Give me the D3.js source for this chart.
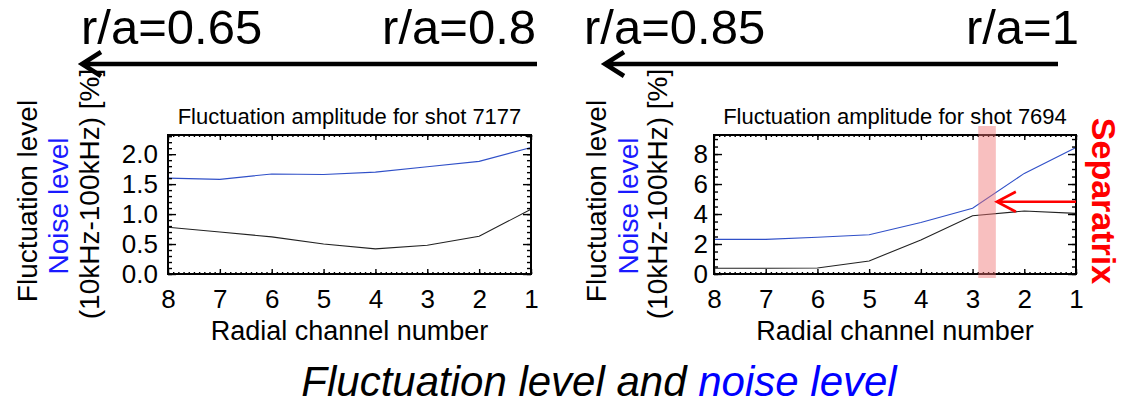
<!DOCTYPE html>
<html>
<head>
<meta charset="utf-8">
<script src="https://cdn.jsdelivr.net/npm/d3@7"></script>
<style>
  body { margin: 0; background: #fff; }
  svg { display: block; font-family: "Liberation Sans", Arial, sans-serif; }
</style>
</head>
<body>
<svg id="chart" width="1126" height="405"></svg>
<script>
// channel numbers, plotted from 8 (inner) to 1 (edge)
const channels = [8, 7, 6, 5, 4, 3, 2, 1];

// shot 7177
const fluct7177 = [0.78, 0.70, 0.62, 0.50, 0.42, 0.48, 0.63, 1.08];
const noise7177 = [1.60, 1.58, 1.67, 1.66, 1.70, 1.79, 1.88, 2.11];
const yTicks7177 = [0, 0.5, 1.0, 1.5, 2.0];

// shot 7694
const fluct7694 = [0.38, 0.38, 0.40, 0.87, 2.27, 3.89, 4.20, 4.04];
const noise7694 = [2.31, 2.31, 2.45, 2.62, 3.44, 4.38, 6.71, 8.44];
const yTicks7694 = [0, 2, 4, 6, 8];

// separatrix band (channel units) and arrow level
const separatrixBand = [2.89, 2.55];
const separatrixLevel = 4.82;

const svg = d3.select("#chart");
svg.append("rect").attr("width", 1126).attr("height", 405).attr("fill", "#fff");

const blueLine = "#3050c8";
const labelBlue = "#1a1aff";

function drawPanel(p) {
    const x = d3.scaleLinear().domain([8, 1]).range([p.left, p.right]);
    const y = d3.scaleLinear().domain([0, p.yMax]).range([p.bottom, p.top]);
    const g = svg.append("g");

    // data lines
    const line = d3.line().x((d, i) => x(channels[i])).y(d => y(d));
    g.append("path").datum(p.noise).attr("d", line)
        .attr("fill", "none").attr("stroke", blueLine).attr("stroke-width", 1.1);
    g.append("path").datum(p.fluct).attr("d", line)
        .attr("fill", "none").attr("stroke", "#222").attr("stroke-width", 1.1);

    // minor ticks all round (inward)
    const minorX = d3.range(1, 8.001, 0.1);
    const minorY = d3.range(0, p.yMax, p.yMinor);
    g.append("g").attr("transform", `translate(0,${p.bottom})`)
        .call(d3.axisBottom(x).tickValues(minorX).tickSize(-2).tickFormat(""));
    g.append("g").attr("transform", `translate(0,${p.top})`)
        .call(d3.axisTop(x).tickValues(minorX).tickSize(-2).tickFormat(""));
    g.append("g").attr("transform", `translate(${p.left},0)`)
        .call(d3.axisLeft(y).tickValues(minorY).tickSize(-4).tickFormat(""));
    g.append("g").attr("transform", `translate(${p.right},0)`)
        .call(d3.axisRight(y).tickValues(minorY).tickSize(-4).tickFormat(""));

    // major ticks with labels
    g.append("g").attr("class", "xa").attr("transform", `translate(0,${p.bottom})`)
        .call(d3.axisBottom(x).tickValues(channels).tickSize(-5).tickPadding(16).tickFormat(d3.format("d")));
    g.append("g").attr("transform", `translate(0,${p.top})`)
        .call(d3.axisTop(x).tickValues(channels).tickSize(-5).tickFormat(""));
    g.append("g").attr("class", "ya").attr("transform", `translate(${p.left},0)`)
        .call(d3.axisLeft(y).tickValues(p.yTicks).tickSize(-8).tickPadding(p.yPad).tickFormat(p.yFmt));
    g.append("g").attr("transform", `translate(${p.right},0)`)
        .call(d3.axisRight(y).tickValues(p.yTicks).tickSize(-8).tickFormat(""));

    g.selectAll(".domain").remove();
    g.selectAll(".tick line").attr("stroke", "#000").attr("stroke-width", 1.4);
    g.selectAll(".xa text, .ya text")
        .attr("font-family", "Liberation Sans, Arial, sans-serif")
        .attr("font-size", 26).attr("fill", "#000");

    // frame
    g.append("rect")
        .attr("x", p.left).attr("y", p.top)
        .attr("width", p.right - p.left).attr("height", p.bottom - p.top)
        .attr("fill", "none").attr("stroke", "#000").attr("stroke-width", 2);

    // title and x label
    const cx = (p.left + p.right) / 2;
    g.append("text").attr("x", cx).attr("y", 124).attr("text-anchor", "middle")
        .attr("font-size", 22).text(p.title);
    g.append("text").attr("x", cx).attr("y", 340).attr("text-anchor", "middle")
        .attr("font-size", 27).text("Radial channel number");

    // y label, three rotated lines
    const yl = [
        { t: "Fluctuation level", c: "#000", bx: p.ylx[0], cy: 201 },
        { t: "Noise level", c: labelBlue, bx: p.ylx[1], cy: 206 },
        { t: "(10kHz-100kHz) [%]", c: "#000", bx: p.ylx[2], cy: 194 }
    ];
    yl.forEach(l => {
        g.append("text")
            .attr("transform", `translate(${l.bx},${l.cy}) rotate(-90)`)
            .attr("text-anchor", "middle").attr("font-size", 28)
            .attr("fill", l.c).text(l.t);
    });

    return { x, y, g };
}

drawPanel({
    left: 168, right: 531, top: 135, bottom: 274,
    yMax: 2.32, yMinor: 0.1, yTicks: yTicks7177, yFmt: d3.format(".1f"), yPad: 10,
    fluct: fluct7177, noise: noise7177,
    title: "Fluctuation amplitude for shot 7177",
    ylx: [37, 68, 99]
});

const right = drawPanel({
    left: 714, right: 1076, top: 135, bottom: 274,
    yMax: 9.27, yMinor: 0.5, yTicks: yTicks7694, yFmt: d3.format("d"), yPad: 6,
    fluct: fluct7694, noise: noise7694,
    title: "Fluctuation amplitude for shot 7694",
    ylx: [606, 638, 667]
});

// separatrix band and arrow
const bx0 = right.x(separatrixBand[0]), bx1 = right.x(separatrixBand[1]);
right.g.append("rect")
    .attr("x", bx0).attr("y", 126)
    .attr("width", bx1 - bx0).attr("height", 152)
    .attr("fill", "#f07070").attr("opacity", 0.45);

const ay = right.y(separatrixLevel);
right.g.append("path")
    .attr("d", `M${right.x(1)},${ay}H${bx1 + 1}M${bx1 + 20},${ay - 10}L${bx1 + 1},${ay}L${bx1 + 20},${ay + 10}`)
    .attr("fill", "none").attr("stroke", "#f00").attr("stroke-width", 2.6);

svg.append("text")
    .attr("transform", "translate(1092,201) rotate(90)")
    .attr("text-anchor", "middle").attr("font-size", 34).attr("font-weight", "bold")
    .attr("fill", "#f00").text("Separatrix");

// top radial position arrows
const arrows = [
    { x0: 537, x1: 80, l: "r/a=0.65", r: "r/a=0.8", lx: 81, rx: 536 },
    { x0: 1058, x1: 603, l: "r/a=0.85", r: "r/a=1", lx: 584, rx: 1079 }
];
arrows.forEach(a => {
    svg.append("path")
        .attr("d", `M${a.x0},64H${a.x1 + 2}M${a.x1 + 21},52L${a.x1 + 2},64L${a.x1 + 21},76`)
        .attr("fill", "none").attr("stroke", "#000").attr("stroke-width", 4.5);
    svg.append("text").attr("x", a.lx).attr("y", 44).attr("font-size", 49).text(a.l);
    svg.append("text").attr("x", a.rx).attr("y", 44).attr("text-anchor", "end")
        .attr("font-size", 49).text(a.r);
});

// caption
const cap = svg.append("text").attr("x", 599).attr("y", 396)
    .attr("text-anchor", "middle").attr("font-size", 42).attr("font-style", "italic");
cap.append("tspan").attr("fill", "#000").text("Fluctuation level and ");
cap.append("tspan").attr("fill", "#0000ff").text("noise level");
</script>
</body>
</html>
